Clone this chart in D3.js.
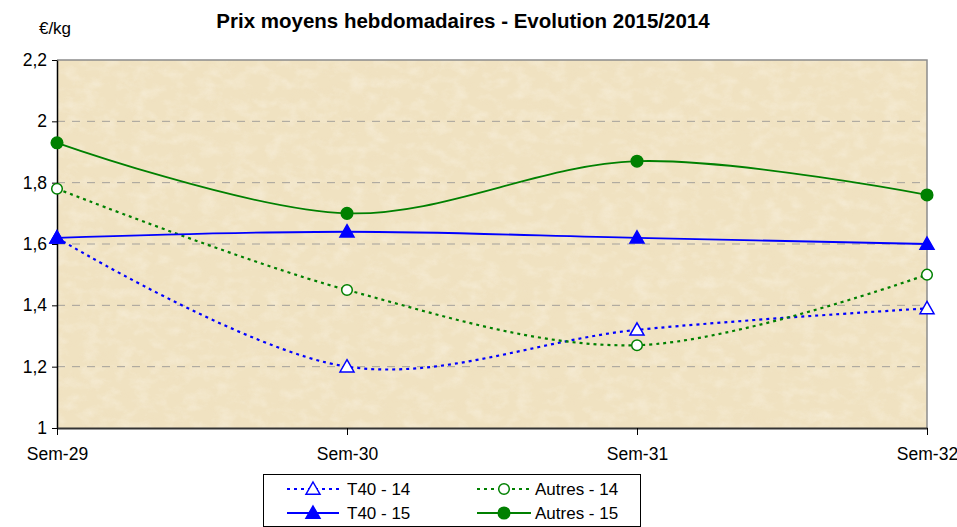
<!DOCTYPE html>
<html>
<head>
<meta charset="utf-8">
<script src="https://cdn.jsdelivr.net/npm/d3@7"></script>
<style>
  html, body { margin: 0; padding: 0; background: #fff; }
  svg { display: block; font-family: "Liberation Sans", Arial, sans-serif; }
</style>
</head>
<body>
<svg id="chart" width="957" height="527"></svg>
<script>
// ---- data ---------------------------------------------------------------
const weeks = ['Sem-29', 'Sem-30', 'Sem-31', 'Sem-32'];
const t40_14    = [1.62, 1.20, 1.32, 1.39];
const autres_14 = [1.78, 1.45, 1.27, 1.50];
const t40_15    = [1.62, 1.64, 1.62, 1.60];
const autres_15 = [1.93, 1.70, 1.87, 1.76];
const yTicks = [1, 1.2, 1.4, 1.6, 1.8, 2, 2.2];

const series = [
  { name: 'T40 - 14',    values: t40_14,    color: '#0000ff', dash: '3,4', shape: 'tri', filled: false },
  { name: 'Autres - 14', values: autres_14, color: '#008000', dash: '3,4', shape: 'circ', filled: false },
  { name: 'T40 - 15',    values: t40_15,    color: '#0000ff', dash: null,  shape: 'tri', filled: true },
  { name: 'Autres - 15', values: autres_15, color: '#008000', dash: null,  shape: 'circ', filled: true },
];

// ---- layout -------------------------------------------------------------
const svg = d3.select('#chart');
const m = { left: 57, right: 927, top: 60, bottom: 428 };
const x = d3.scalePoint(weeks, [m.left, m.right]);
const y = d3.scaleLinear([1, 2.2], [m.bottom, m.top]);
const fmtTick = d => String(d).replace('.', ',');

// mottled beige texture (light + dark noise over a base colour)
const defs = svg.append('defs');
function noise(id, freq, seed, rgb, a, b) {
  const f = defs.append('filter').attr('id', id).attr('x', 0).attr('y', 0).attr('width', 1).attr('height', 1);
  f.append('feTurbulence').attr('type', 'fractalNoise').attr('baseFrequency', freq)
    .attr('numOctaves', 5).attr('seed', seed).attr('result', 'n');
  f.append('feColorMatrix').attr('in', 'n').attr('type', 'matrix')
    .attr('values', `0 0 0 0 ${rgb[0]}  0 0 0 0 ${rgb[1]}  0 0 0 0 ${rgb[2]}  ${a} 0 0 0 ${b}`)
    .attr('result', 'c');
  f.append('feComposite').attr('in', 'c').attr('in2', 'SourceGraphic').attr('operator', 'in');
}
noise('texLight', '0.06 0.09', 3, [1, 0.98, 0.94], 1.6, -0.7);
noise('texDark', '0.05 0.08', 11, [0.86, 0.74, 0.52], 1.6, -0.75);

const plotRect = sel => sel.append('rect').attr('x', m.left).attr('y', m.top)
  .attr('width', m.right - m.left).attr('height', m.bottom - m.top);
plotRect(svg).attr('fill', '#f0e2c1');
plotRect(svg).attr('fill', '#000').attr('filter', 'url(#texDark)').attr('opacity', 0.35);
plotRect(svg).attr('fill', '#000').attr('filter', 'url(#texLight)').attr('opacity', 0.4);

// gridlines
svg.append('g').selectAll('line').data(yTicks.filter(d => d > 1 && d < 2.2)).join('line')
  .attr('x1', m.left).attr('x2', m.right).attr('y1', d => y(d)).attr('y2', d => y(d))
  .attr('stroke', '#a4a19b').attr('stroke-width', 1).attr('stroke-dasharray', '8,7');

// plot frame (top/right gray)
svg.append('path').attr('d', `M${m.left},${m.top}H${m.right}V${m.bottom}`)
  .attr('fill', 'none').attr('stroke', '#8c8c8c').attr('stroke-width', 1.5);

// axes
const yAxis = svg.append('g').attr('transform', `translate(${m.left},0)`)
  .call(d3.axisLeft(y).tickValues(yTicks).tickFormat(fmtTick).tickSize(5).tickSizeOuter(0));
const xAxis = svg.append('g').attr('transform', `translate(0,${m.bottom})`)
  .call(d3.axisBottom(x).tickSize(7).tickSizeOuter(0).tickPadding(13));
[yAxis, xAxis].forEach(a => {
  a.select('.domain').attr('stroke', '#000').attr('stroke-width', 1.5);
  a.selectAll('.tick line').attr('stroke', '#000');
  a.selectAll('text').attr('fill', '#000').style('font-size', '17.5px')
    .style('font-family', '"Liberation Sans", Arial, sans-serif');
});
xAxis.select('.domain').attr('stroke', '#333').attr('stroke-width', 2);
yAxis.selectAll('.tick text').attr('x', -10);

// titles
svg.append('text').attr('x', 463).attr('y', 28).attr('text-anchor', 'middle')
  .style('font-size', '20.5px').style('font-weight', 'bold').text('Prix moyens hebdomadaires - Evolution 2015/2014');
svg.append('text').attr('x', 55).attr('y', 34).attr('text-anchor', 'middle')
  .style('font-size', '17px').text('€/kg');

// markers
function marker(g, shape, filled, color, cx, cy) {
  if (shape === 'tri') {
    const s = 7;
    g.append('path').attr('d', `M${cx},${cy - s}L${cx + s},${cy + s * 0.75}L${cx - s},${cy + s * 0.75}Z`)
      .attr('fill', filled ? color : '#fff').attr('stroke', color).attr('stroke-width', 1.5);
  } else {
    g.append('circle').attr('cx', cx).attr('cy', cy).attr('r', filled ? 5.8 : 5.3)
      .attr('fill', filled ? color : '#fff').attr('stroke', color).attr('stroke-width', 1.5);
  }
}

// lines
const line = d3.line().x((d, i) => x(weeks[i])).y(d => y(d)).curve(d3.curveCatmullRom.alpha(0.5));
const plot = svg.append('g');
series.forEach(s => {
  plot.append('path').datum(s.values).attr('d', line).attr('fill', 'none')
    .attr('stroke', s.color).attr('stroke-width', s.dash ? 2.2 : 1.8)
    .attr('stroke-dasharray', s.dash);
});
series.forEach(s => {
  s.values.forEach((v, i) => marker(plot, s.shape, s.filled, s.color, x(weeks[i]), y(v)));
});

// legend
const lg = svg.append('g');
lg.append('rect').attr('x', 263.5).attr('y', 474.5).attr('width', 377).attr('height', 52)
  .attr('fill', '#fff').attr('stroke', '#000').attr('stroke-width', 1);
const cols = [{ x1: 287, x2: 339, tx: 347 }, { x1: 477, x2: 531, tx: 535 }];
const rows = [489, 513];
series.forEach((s, i) => {
  const c = cols[i % 2], ry = rows[Math.floor(i / 2)];
  lg.append('line').attr('x1', c.x1).attr('x2', c.x2).attr('y1', ry).attr('y2', ry)
    .attr('stroke', s.color).attr('stroke-width', s.dash ? 2.2 : 1.8).attr('stroke-dasharray', s.dash);
  marker(lg, s.shape, s.filled, s.color, (c.x1 + c.x2) / 2, ry);
  lg.append('text').attr('x', c.tx).attr('y', ry + 6).style('font-size', '17px').text(s.name);
});
</script>
</body>
</html>
